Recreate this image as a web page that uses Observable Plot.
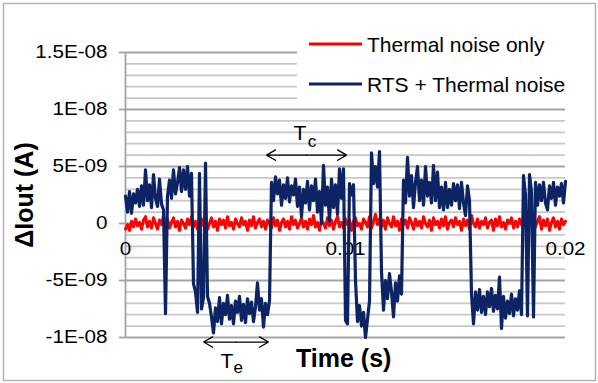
<!DOCTYPE html>
<html>
<head>
<meta charset="utf-8">
<script src="https://cdn.jsdelivr.net/npm/d3@7"></script>
<script src="https://cdn.jsdelivr.net/npm/@observablehq/plot@0.6"></script>
<style>
  html, body { margin: 0; padding: 0; background: white; }
  #chart { width: 598px; height: 383px; position: relative; }
</style>
</head>
<body>
<div id="chart"></div>
<script>
// ---------- data ----------
const seriesNames = ["Thermal noise only", "RTS + Thermal noise"];
const seriesColors = ["#ff0000", "#0c2463"];
const xTickValues = [0, 0.01, 0.02];
const xTickLabels = ["0", "0.01", "0.02"];
const yTickValues = [-1e-8, -5e-9, 0, 5e-9, 1e-8, 1.5e-8];
const yTickLabels = ["-1E-08", "-5E-09", "0", "5E-09", "1E-08", "1.5E-08"];
const xTitle = "Time (s)";
const yTitle = "\u0394Iout (A)";
const sampleStep = 0.02 / 220; // seconds between samples

// Thermal noise only (nA)
const thermalNoise_nA = [
  -0.5, -0.1, -0.6, 0.2, -0.3, 0.4, -0.2, 0.1, -0.5, 0.3,
  0.6, -0.3, 0.2, -0.4, 0.5, 0.0, -0.5, 0.3, -0.1, 0.7,
  -0.2, 0.4, -0.4, 0.1, 0.5, -0.3, 0.2, -0.6, 0.3, 0.0,
  -0.4, 0.4, -0.1, 0.6, -0.3, 0.2, -0.5, 0.1, 0.4, -0.2,
  0.3, -0.5, 0.0, 0.5, -0.3, 0.2, -0.6, 0.4, -0.1, 0.3,
  -0.4, 0.6, -0.2, 0.1, -0.5, 0.4, 0.0, -0.3, 0.5, -0.1,
  0.2, -0.6, 0.3, -0.2, 0.6, -0.4, 0.1, 0.4, -0.3, 0.2,
  -0.5, 0.3, 0.0, -0.4, 0.5, -0.2, 0.3, -0.6, 0.1, 0.4,
  -0.3, 0.2, -0.5, 0.6, -0.1, 0.3, -0.4, 0.0, 0.5, -0.3,
  0.2, -0.5, 0.4, -0.1, 0.7, -0.3, 0.1, -0.6, 0.3, 0.0,
  -0.4, 0.5, -0.2, 0.3, -0.5, 0.2, 0.6, -0.3, 0.1, -0.4,
  0.4, -0.1, 0.3, -0.6, 0.2, 0.5, -0.2, 0.0, -0.5, 0.4,
  0.1, -0.3, 0.6, -0.4, 0.2, 0.8, -0.1, 0.4, -0.3, 0.3,
  -0.5, 0.5, 0.0, -0.3, 0.6, -0.2, 0.2, -0.6, 0.4, -0.1,
  0.3, -0.4, 0.5, 0.1, -0.5, 0.4, -0.2, 0.2, -0.4, 0.6,
  0.0, -0.3, 0.3, -0.6, 0.5, -0.1, 0.2, -0.4, 0.4, -0.2,
  0.6, -0.5, 0.1, 0.3, -0.3, 0.5, -0.1, 0.2, -0.6, 0.4,
  -0.2, 0.3, -0.5, 0.7, 0.0, -0.3, 0.4, -0.4, 0.2, -0.1,
  0.5, -0.4, 0.1, 0.3, -0.6, 0.4, -0.2, 0.6, -0.3, 0.1,
  -0.5, 0.3, 0.0, 0.5, -0.4, 0.2, -0.3, 0.4, -0.1, 0.6,
  -0.2, 0.3, 0.8, -0.1, 0.5, -0.3, 0.2, 0.6, -0.5, 0.3,
  -0.2, 0.4, -0.6, 0.1, 0.5, -0.3, 0.2, -0.5, 0.4, -0.1,
  0.2
];

// RTS + Thermal noise (nA)
const rtsNoise_nA = [
  2.4, 1.0, 2.8, 0.9, 2.6, 1.8, 3.0, 1.5, 3.3, 1.6,
  4.7, 2.0, 3.4, 1.4, 4.3, 2.2, 1.5, 3.9, 1.7, 1.2,
  -7.9, 2.4, 3.8, 2.2, 4.7, 2.6, 3.6, 4.9, 2.8, 4.7,
  3.0, 5.0, 2.4, 4.4, -5.3, -6.0, -7.8, 4.4, -7.5, -6.5,
  5.3, -6.4, -7.0, -8.2, -9.6, -7.4, -8.6, -6.5, -8.8, -7.0,
  -8.0, -6.3, -8.4, -7.2, -8.8, -6.8, -7.8, -6.4, -8.5, -7.1,
  -8.7, -6.6, -7.9, -6.9, -8.6, -7.3, -5.2, -7.6, -6.6, -9.1,
  -7.0, -8.0, -6.8, 3.6, 2.0, 4.1, 2.6, 3.8, 1.6, 3.4,
  2.2, 4.0, 1.9, 3.3, 2.5, 3.9, 1.5, 3.2, 0.6, 3.0,
  1.8, 3.7, 1.2, 3.3, 2.0, 3.9, 1.0, 2.8, 0.0, 5.1,
  1.6, 3.2, 0.2, 3.9, 1.4, 3.4, 0.8, 4.8, 2.2, 4.8,
  -8.5, -8.8, 3.5, 2.5, 3.4, -5.0, -8.6, -7.2, -9.0, -7.8,
  -10.0, -8.4, -6.8, 6.2, 3.5, 5.0, 3.2, 6.3, -4.2, -7.6,
  -5.0, -6.6, -4.4, -6.0, -8.2, -5.2, -6.8, -4.6, -6.2, 3.8,
  1.8, 5.8, 2.4, 4.2, 1.4, 3.6, 5.0, 2.0, 3.8, 1.6,
  5.0, 2.4, 3.6, 1.8, 5.1, 2.0, 4.5, 1.4, 3.2, 1.2,
  3.6, 1.4, 3.0, 1.6, 3.5, 2.0, 3.4, 1.3, 3.6, 1.8,
  0.7, 3.3, 2.0, -6.2, -8.8, -6.0, -7.6, -5.8, -7.8, -6.4,
  -8.0, -6.0, -7.3, -5.7, -7.7, -6.3, -7.5, -4.7, -9.2, -6.4,
  -8.3, -6.8, -7.9, -6.2, -8.1, -6.6, -7.6, -5.9, -8.0, 4.2,
  2.5, -8.1, 4.3, 2.8, -8.2, 3.6, 1.6, 3.4, 2.0, 3.6,
  1.8, 1.2, 3.3, 2.2, 3.6, 1.6, 3.2, 2.4, 3.5, 1.8,
  3.7
];

// annotation arrows (time in s, current in A)
const arrowNames = ["Tc", "Te"];
const arrowStart = [0.00641, 0.00355];
const arrowEnd = [0.01005, 0.0065];
const arrowLevel = [6.0e-9, -10.4e-9];
const annotMain = ["T", "T"];
const annotSub = ["c", "e"];
const annotMainX = [0.00764, 0.00432];
const annotMainY = [7.9e-9, -12.1e-9];
const annotSubX = [0.00828, 0.00491];
const annotSubY = [7.15e-9, -12.6e-9];

// ---------- build ----------
const FONT = "'Liberation Sans', Arial, sans-serif";
const thermal = thermalNoise_nA.map((v, i) => ({t: i * sampleStep, v: v * 1e-9}));
const rts = rtsNoise_nA.map((v, i) => ({t: i * sampleStep, v: v * 1e-9}));
const minorGrid = d3.range(-10, 16).map(k => k * 1e-9).filter(v => !yTickValues.some(t => Math.abs(t - v) < 1e-12));
const yLabelOf = new Map(yTickValues.map((v, i) => [v, yTickLabels[i]]));

const arrows = arrowNames.map((n, i) => ({
  mid: (arrowStart[i] + arrowEnd[i]) / 2, a: arrowStart[i], b: arrowEnd[i], y: arrowLevel[i]
}));
const annots = annotMain.map((m, i) => ({m, s: annotSub[i], mx: annotMainX[i], my: annotMainY[i], sx: annotSubX[i], sy: annotSubY[i]}));

const plot = Plot.plot({
  width: 598,
  height: 383,
  marginLeft: 125,
  marginRight: 33,
  marginTop: 52,
  marginBottom: 46,
  x: {domain: [0, 0.02], axis: null},
  y: {domain: [-1e-8, 1.5e-8], axis: null},
  style: {fontFamily: FONT, background: "white", overflow: "visible", color: "black"},
  marks: [
    Plot.ruleY(minorGrid, {stroke: "#c8c8c8", strokeWidth: 1.8}),
    Plot.ruleY(yTickValues, {stroke: "#a3a3a3", strokeWidth: 1.8}),
    Plot.ruleX([0], {stroke: "#a3a3a3", strokeWidth: 1.8}),
    Plot.axisY({
      ticks: yTickValues,
      tickFormat: d => yLabelOf.get(d),
      tickSize: 6,
      tickPadding: 12,
      fontSize: 17.5,
      stroke: "#a3a3a3",
      strokeWidth: 1.8,
      fill: "black",
      label: null,
      className: "stretch-y"
    }),
    Plot.text(xTickValues, {
      x: d => d, y: 0, text: (d, i) => xTickLabels[i],
      dy: 26, fontSize: 17.5, fill: "black", className: "stretch-x"
    }),
    Plot.line(thermal, {x: "t", y: "v", stroke: seriesColors[0], strokeWidth: 3, strokeLinejoin: "round"}),
    Plot.line(rts, {x: "t", y: "v", stroke: seriesColors[1], strokeWidth: 3.2, strokeLinejoin: "round"}),
    Plot.arrow(arrows, {x1: "mid", x2: "a", y1: "y", y2: "y", stroke: "black", strokeWidth: 1.3, headLength: 12, bend: 0, insetEnd: 0}),
    Plot.arrow(arrows, {x1: "mid", x2: "b", y1: "y", y2: "y", stroke: "black", strokeWidth: 1.3, headLength: 12, bend: 0, insetEnd: 0}),
    Plot.text(annots, {x: "mx", y: "my", text: "m", textAnchor: "start", fontSize: 21, fill: "black"}),
    Plot.text(annots, {x: "sx", y: "sy", text: "s", textAnchor: "start", fontSize: 17, fill: "black"})
  ]
});

document.getElementById("chart").appendChild(plot);
const svg = d3.select(plot);

// stretch tick labels horizontally to match the reference glyph proportions
svg.selectAll(".stretch-y text, .stretch-x text").each(function () {
  const w = this.getComputedTextLength();
  d3.select(this).attr("textLength", (w * 1.18).toFixed(1)).attr("lengthAdjust", "spacingAndGlyphs");
});

// legend (white box inside the plot area)
const lg = svg.append("g").attr("text-anchor", "start");
lg.append("rect").attr("x", 297).attr("y", 20).attr("width", 290).attr("height", 84).attr("fill", "white");
seriesNames.forEach((name, i) => {
  const yl = 44 + i * 40;
  lg.append("line").attr("x1", 309).attr("x2", 362).attr("y1", yl).attr("y2", yl)
    .attr("stroke", seriesColors[i]).attr("stroke-width", 2.8);
  lg.append("text").attr("x", 367).attr("y", yl + 8).attr("font-size", 21).attr("text-anchor", "start")
    .attr("font-family", FONT).attr("fill", "black").text(name);
});

// axis titles
svg.append("text").attr("x", 296).attr("y", 367).attr("font-size", 25).attr("font-weight", "bold")
  .attr("text-anchor", "start").attr("font-family", FONT).attr("fill", "black").text(xTitle);
svg.append("text").attr("transform", "translate(33,195) rotate(-90)").attr("text-anchor", "middle")
  .attr("font-size", 25).attr("font-weight", "bold").attr("font-family", FONT).attr("fill", "black").text(yTitle);

// outer chart frame
svg.append("rect").attr("x", 3.5).attr("y", 3.5).attr("width", 592).attr("height", 377)
  .attr("fill", "none").attr("stroke", "#b3b3b3").attr("stroke-width", 1.5);
</script>
</body>
</html>
